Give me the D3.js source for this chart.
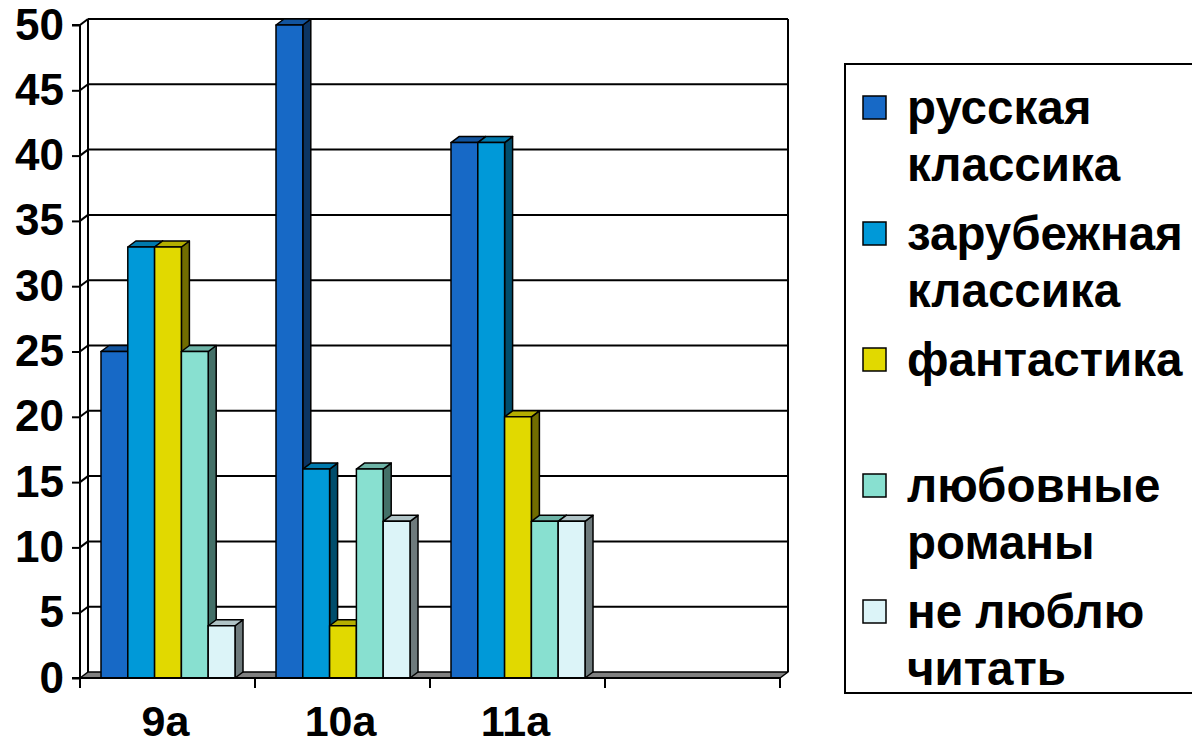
<!DOCTYPE html>
<html><head><meta charset="utf-8">
<script src="https://cdn.jsdelivr.net/npm/d3@7"></script>
<style>body{margin:0;background:#fff}svg{display:block}text{font-family:"Liberation Sans",Arial,sans-serif;font-weight:bold}</style>
</head><body><svg id="c" width="1192" height="752"></svg>
<script>
const categories = ["9а", "10а", "11а", ""];
const series = ["русская классика", "зарубежная классика", "фантастика", "любовные романы", "не люблю читать"];
const legendLines = [["русская", "классика"], ["зарубежная", "классика"], ["фантастика", ""], ["любовные", "романы"], ["не люблю", "читать"]];
const russianClassics = [25, 50, 41, null];
const foreignClassics = [33, 16, 41, null];
const fantasy = [33, 4, 20, null];
const romance = [25, 16, 12, null];
const dontLike = [4, 12, 12, null];
const yTicks = [0, 5, 10, 15, 20, 25, 30, 35, 40, 45, 50];
const seriesValues = [russianClassics, foreignClassics, fantasy, romance, dontLike];
const colors = ["#1769c6", "#0099d8", "#e1d900", "#88e0d0", "#dcf4f8"];

const svg = d3.select("#c");
const DX = 8, DY = 6;
const x = d3.scaleBand().domain(categories).range([80, 780]);
const y = d3.scaleLinear().domain([0, 50]).range([678, 25]);
const xs = d3.scaleBand().domain(series).range([21, 155]);

const dark = (c, k) => { const r = d3.rgb(c); return d3.rgb(r.r * k, r.g * k, r.b * k).formatHex(); };

// back wall + left wall gridlines
const g = svg.append("g");
yTicks.forEach(v => {
  if (v > 0) {
    g.append("line").attr("x1", 80).attr("y1", y(v)).attr("x2", 80 + DX).attr("y2", y(v) - DY).attr("stroke", "#000").attr("stroke-width", 2);
    g.append("line").attr("x1", 80 + DX).attr("y1", y(v) - DY).attr("x2", 780 + DX).attr("y2", y(v) - DY).attr("stroke", "#000").attr("stroke-width", 2);
  }
});
g.append("line").attr("x1", 80 + DX).attr("y1", y(50) - DY).attr("x2", 80 + DX).attr("y2", y(0) - DY).attr("stroke", "#000").attr("stroke-width", 2);
g.append("line").attr("x1", 780 + DX).attr("y1", y(50) - DY).attr("x2", 780 + DX).attr("y2", y(0) - DY).attr("stroke", "#000").attr("stroke-width", 2);

// floor
const x0 = x.range()[0], x1 = x.range()[1];
g.append("path").attr("d", `M${x0},${y(0)}L${x1},${y(0)}L${x1 + DX},${y(0) - DY}L${x0 + DX},${y(0) - DY}Z`)
  .attr("fill", "#808080").attr("stroke", "#000").attr("stroke-width", 1.5).attr("stroke-linejoin", "round");

// bars
const bars = svg.append("g");
categories.forEach((cat, ci) => {
  series.forEach((s, si) => {
    const v = seriesValues[si][ci];
    if (v == null) return;
    const bx = x(cat) + xs(s), w = xs.bandwidth(), yt = y(v), yb = y(0);
    const c = colors[si];
    const st = {stroke: "#000", "stroke-width": 1.5, "stroke-linejoin": "round"};
    const p1 = bars.append("path").attr("d", `M${bx + w},${yt}L${bx + w + DX},${yt - DY}L${bx + w + DX},${yb - DY}L${bx + w},${yb}Z`).attr("fill", dark(c, 0.5));
    const p2 = bars.append("path").attr("d", `M${bx},${yt}L${bx + DX},${yt - DY}L${bx + w + DX},${yt - DY}L${bx + w},${yt}Z`).attr("fill", dark(c, 0.8));
    const p3 = bars.append("rect").attr("x", bx).attr("y", yt).attr("width", w).attr("height", yb - yt).attr("fill", c);
    [p1, p2, p3].forEach(p => Object.entries(st).forEach(([k, val]) => p.attr(k, val)));
  });
});

// y axis
const yAxis = d3.axisLeft(y).tickValues(yTicks).tickSize(8).tickPadding(8).tickFormat(d3.format("d"));
const ya = svg.append("g").attr("transform", "translate(80,0)").call(yAxis);
ya.select(".domain").attr("stroke-width", 2).attr("d", `M-8,${y(50)}H0V${y(0)}H-8`);
ya.selectAll(".tick line").attr("stroke-width", 2);
ya.selectAll(".tick text").attr("font-size", 44).attr("font-family", "Liberation Sans, Arial, sans-serif").attr("font-weight", "bold").attr("fill", "#000");

// x axis
const xa = svg.append("g");
xa.append("line").attr("x1", x0).attr("x2", x1).attr("y1", y(0)).attr("y2", y(0)).attr("stroke", "#000").attr("stroke-width", 2);
const bounds = categories.map(c => x(c)).concat([x1]);
xa.selectAll(".xt").data(bounds).join("line").attr("x1", d => d).attr("x2", d => d).attr("y1", y(0)).attr("y2", y(0) + 10).attr("stroke", "#000").attr("stroke-width", 2);
xa.selectAll(".xl").data(categories).join("text").attr("x", d => x(d) + x.bandwidth() / 2 - 2).attr("y", 736)
  .attr("text-anchor", "middle").attr("font-size", 43).text(d => d);

// legend
const lg = svg.append("g");
lg.append("rect").attr("x", 845).attr("y", 64).attr("width", 360).attr("height", 629).attr("fill", "#fff").attr("stroke", "#000").attr("stroke-width", 2);
series.forEach((s, i) => {
  const cy = 108 + i * 126;
  lg.append("rect").attr("x", 863).attr("y", cy - 12).attr("width", 23).attr("height", 23).attr("fill", colors[i]).attr("stroke", "#000").attr("stroke-width", 1.5);
  legendLines[i].forEach((t, li) => {
    if (!t) return;
    lg.append("text").attr("x", 907).attr("y", cy + li * 57 + 16).attr("font-size", 47.5).text(t);
  });
});
</script></body></html>
